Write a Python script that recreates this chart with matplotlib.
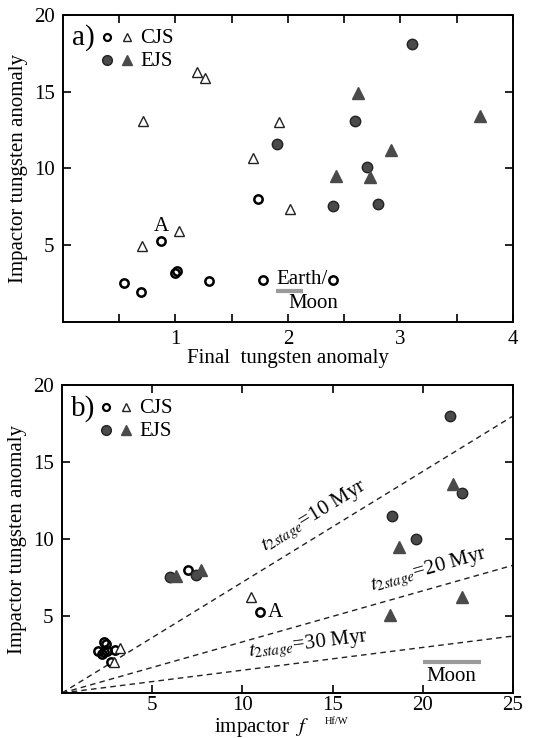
import numpy as np
import matplotlib
matplotlib.use("Agg")
import matplotlib.pyplot as plt

plt.rcParams['font.family'] = ['Liberation Serif', 'DejaVu Serif']
plt.rcParams['mathtext.fontset'] = 'stix'

# panel a : final tungsten anomaly vs impactor tungsten anomaly
a_cjs_circ_x = [0.54, 0.69, 0.87, 1.0, 1.01, 1.30, 1.73, 1.78, 2.40]
a_cjs_circ_y = [2.55, 1.95, 5.28, 3.2, 3.32, 2.65, 7.98, 2.76, 2.76]
a_cjs_tri_x = [1.19, 1.26, 0.71, 0.70, 1.03, 1.69, 1.92, 2.02]
a_cjs_tri_y = [16.3, 15.9, 13.1, 4.96, 5.9, 10.7, 13.0, 7.39]
a_ejs_circ_x = [3.10, 2.60, 1.90, 2.70, 2.40, 2.80]
a_ejs_circ_y = [18.1, 13.1, 11.6, 10.1, 7.57, 7.67]
a_ejs_tri_x = [2.62, 3.71, 2.92, 2.43, 2.73]
a_ejs_tri_y = [14.9, 13.4, 11.2, 9.5, 9.46]
a_moon_x = [1.89, 2.13]
a_moon_y = 2.0

# panel b : impactor f Hf/W vs impactor tungsten anomaly
b_cjs_circ_x = [2.0, 2.2, 2.35, 2.45, 2.3, 2.95, 2.7, 2.5, 7.0, 11.0]
b_cjs_circ_y = [2.75, 2.55, 3.3, 3.2, 2.65, 2.8, 2.0, 2.76, 7.97, 5.24]
b_cjs_tri_x = [3.2, 2.9, 10.5]
b_cjs_tri_y = [2.95, 2.0, 6.25]
b_ejs_circ_x = [21.5, 22.2, 18.3, 19.6, 6.0, 7.45]
b_ejs_circ_y = [18.0, 13.0, 11.5, 10.0, 7.55, 7.65]
b_ejs_tri_x = [21.7, 18.7, 18.2, 22.2, 6.3, 7.7]
b_ejs_tri_y = [13.6, 9.5, 5.06, 6.25, 7.6, 7.97]
b_moon_x = [20.0, 23.2]
b_moon_y = 2.0

# t2stage lines: y value at x = 25
t_labels = ['10', '20', '30']
t_end_y = [18.0, 8.3, 3.7]
t_text_x = [11.5, 17.3, 10.4]
t_text_off = [0.5, 0.4, 0.35]

dark = '#4a4a4a'

fig = plt.figure(figsize=(5.36, 7.38), dpi=100)
axa = fig.add_axes([0.1175, 0.5637, 0.8396, 0.416])
axb = fig.add_axes([0.1157, 0.061, 0.8414, 0.417])


def style(ax):
    for s in ax.spines.values():
        s.set_linewidth(1.4)
    ax.tick_params(direction='in', length=6, width=1.2, top=True, right=True,
                   labelsize=15, pad=6)
    ax.set_ylim(0, 20)
    ax.set_yticks([5, 10, 15, 20])
    ax.set_ylabel('Impactor tungsten anomaly', fontsize=15, labelpad=4)


def points(ax, cx, cy, tx, ty, ex, ey, fx, fy):
    ax.plot(cx, cy, 'o', ms=6, mfc='none', mec='black', mew=1.8, ls='none')
    ax.plot(tx, ty, '^', ms=7, mfc='white', mec='#222222', mew=1.0, ls='none')
    ax.plot(ex, ey, 'o', ms=7.5, mfc=dark, mec='#222222', mew=1.0, ls='none')
    ax.plot(fx, fy, '^', ms=8, mfc=dark, mec=dark, mew=1.0, ls='none')


def key(ax, tag):
    ax.text(0.02, 0.925, tag, transform=ax.transAxes, fontsize=21,
            ha='left', va='center')
    ax.plot([0.098], [0.928], 'o', ms=5, mfc='none', mec='black', mew=1.6,
            transform=ax.transAxes)
    ax.plot([0.142], [0.928], '^', ms=6, mfc='white', mec='#222222', mew=1.0,
            transform=ax.transAxes)
    ax.plot([0.098], [0.853], 'o', ms=7, mfc=dark, mec='#222222', mew=1.0,
            transform=ax.transAxes)
    ax.plot([0.142], [0.853], '^', ms=7, mfc=dark, mec=dark,
            transform=ax.transAxes)
    ax.text(0.171, 0.925, 'CJS', transform=ax.transAxes, fontsize=15,
            va='center')
    ax.text(0.171, 0.850, 'EJS', transform=ax.transAxes, fontsize=15,
            va='center')


# ---- panel a
style(axa)
axa.set_xlim(0, 4)
axa.set_xticks([0.5, 1, 1.5, 2, 2.5, 3, 3.5, 4])
axa.set_xticklabels(['', '1', '', '2', '', '3', '', '4'])
axa.set_xlabel('Final  tungsten anomaly', fontsize=15, labelpad=0)
points(axa, a_cjs_circ_x, a_cjs_circ_y, a_cjs_tri_x, a_cjs_tri_y,
       a_ejs_circ_x, a_ejs_circ_y, a_ejs_tri_x, a_ejs_tri_y)
axa.plot(a_moon_x, [a_moon_y] * 2, color='#9a9a9a', lw=3, solid_capstyle='butt')
axa.text(1.90, 2.75, 'Earth/', fontsize=15, ha='left', va='center')
axa.text(2.0, 1.2, 'Moon', fontsize=15, ha='left', va='center')
axa.text(0.87, 6.25, 'A', fontsize=15, ha='center', va='center')
key(axa, 'a)')

# ---- panel b
style(axb)
axb.tick_params(axis='x', pad=2)
axb.set_xlim(0, 25)
axb.set_xticks([5, 10, 15, 20, 25])
axb.set_xlabel(r'impactor  $f$', fontsize=15)
axb.xaxis.set_label_coords(0.443, -0.075)
axb.text(0.583, -0.094, 'Hf/W', fontsize=7.5, transform=axb.transAxes,
         ha='left', va='center')
xs = np.array([0, 25])
for lab, ye, tx, off in zip(t_labels, t_end_y, t_text_x, t_text_off):
    slope = ye / 25.0
    axb.plot(xs, slope * xs, ls=(0, (4, 3)), color='#222222', lw=1.0)
    ang = axb.transData.transform_angles(np.array([np.degrees(np.arctan(slope))]),
                                         np.array([[tx, slope * tx]]))[0]
    axb.text(tx, slope * tx + off, r'$t_{2stage}$=' + lab + ' Myr', fontsize=15,
             rotation=ang, rotation_mode='anchor', ha='left', va='bottom')
points(axb, b_cjs_circ_x, b_cjs_circ_y, b_cjs_tri_x, b_cjs_tri_y,
       b_ejs_circ_x, b_ejs_circ_y, b_ejs_tri_x, b_ejs_tri_y)
axb.plot(b_moon_x, [b_moon_y] * 2, color='#9a9a9a', lw=3, solid_capstyle='butt')
axb.text(21.6, 1.1, 'Moon', fontsize=15, ha='center', va='center')
axb.text(11.4, 5.2, 'A', fontsize=15, ha='left', va='center')
key(axb, 'b)')

fig.savefig('out.png', dpi=100)
